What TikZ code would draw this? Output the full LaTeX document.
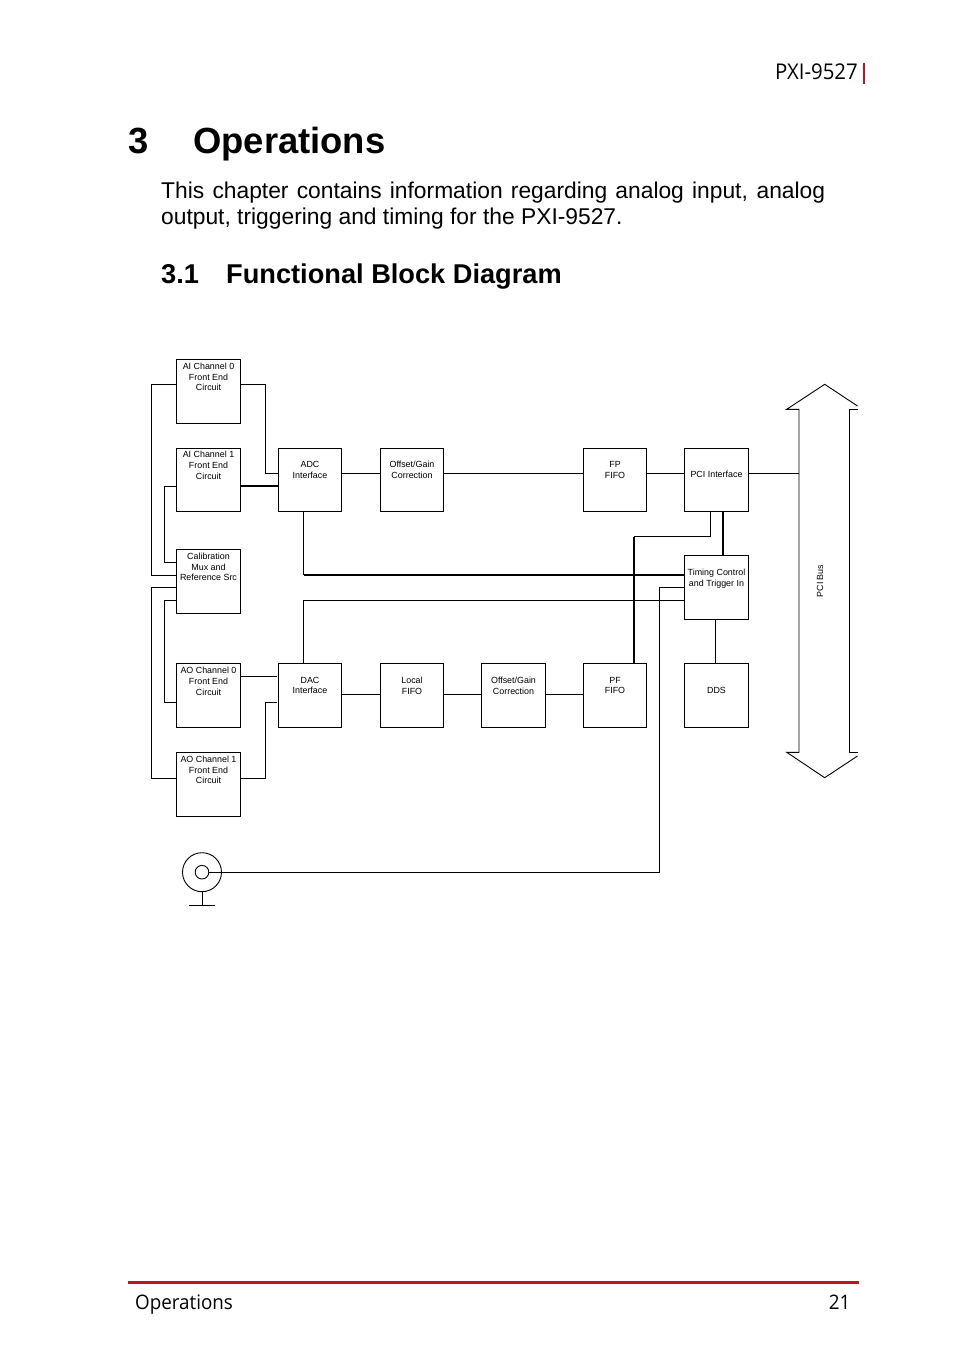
\documentclass[tikz,border=0pt]{standalone}
\usepackage{fontspec}
\setmainfont{Liberation Sans}
\newfontfamily\headfont[FakeStretch=0.94]{Open Sans}
\definecolor{pagered}{RGB}{190,22,32}
\tikzset{
    blockbox/.style={draw, rectangle, minimum width=63.5pt, minimum height=63.5pt, inner sep=0pt, outer sep=0pt, line width=0.9pt},
    blocktext/.style={align=center, inner sep=0pt, font=\fontsize{8.9pt}{10.7pt}\selectfont},
    wire/.style={line width=0.9pt},
    thickwire/.style={line width=1.9pt},
    pagetext/.style={inner sep=0pt, anchor=base west}
}
\begin{document}
\begin{tikzpicture}[x=1pt,y=-1pt]
    \useasboundingbox (0,0) rectangle (954,1354);
    % page furniture
    \node[pagetext, font=\headfont\fontsize{21.7pt}{24pt}\selectfont] (header) at (775,79) {PXI-9527};
    \coordinate (headbar) at (863.8,63);
    \draw[pagered, line width=2pt] (headbar) -- (863.8,84);
    \node[pagetext, font=\bfseries\fontsize{36.4pt}{40pt}\selectfont] (chapnum) at (128,153) {3};
    \node[pagetext, font=\bfseries\fontsize{36.4pt}{40pt}\selectfont] (chaptitle) at (193,153) {Operations};
    \node[inner sep=0pt, anchor=north west, text width=664pt, align=justify, font=\fontsize{22.8pt}{26.3pt}\selectfont] (intro) at (161,181.7) {\hyphenpenalty=10000 This chapter contains information regarding analog input, analog output, triggering and timing for the PXI-9527.};
    \node[pagetext, font=\bfseries\fontsize{27.2pt}{30pt}\selectfont] (secnum) at (161,283.5) {3.1};
    \node[pagetext, font=\bfseries\fontsize{27.2pt}{30pt}\selectfont] (sectitle) at (226,283.5) {Functional Block Diagram};
    \node[pagetext, font=\headfont\fontsize{20pt}{24pt}\selectfont] (footer) at (135,1309) {Operations};
    \node[pagetext, anchor=base east, font=\headfont\fontsize{20pt}{24pt}\selectfont] (pageno) at (850.5,1309) {21};
    \coordinate (footrule) at (128,1282);
    \draw[pagered, line width=3pt] (footrule) -- (858.5,1282);

    % blocks
    \node[blockbox] (ai0) at (208.5,391.5) {};
    \node[blockbox] (ai1) at (208.5,480) {};
    \node[blockbox] (cal) at (208.5,581.5) {};
    \node[blockbox] (ao0) at (208.5,695.5) {};
    \node[blockbox] (ao1) at (208.5,784.3) {};
    \node[blockbox] (adc) at (310,480) {};
    \node[blockbox] (gain0) at (412,480) {};
    \node[blockbox] (fpfifo) at (615,480) {};
    \node[blockbox] (pci) at (716.5,480) {};
    \node[blockbox] (timing) at (716.5,587.5) {};
    \node[blockbox] (dac) at (310,695.5) {};
    \node[blockbox] (local) at (412,695.5) {};
    \node[blockbox] (gain1) at (513.5,695.5) {};
    \node[blockbox] (pffifo) at (615,695.5) {};
    \node[blockbox] (dds) at (716.5,695.5) {};

    \node[blocktext] (ai0txt) at (208.5,377) {AI Channel 0\\Front End\\Circuit};
    \node[blocktext] (ai1txt) at (208.5,465.5) {AI Channel 1\\Front End\\Circuit};
    \node[blocktext] (caltxt) at (208.5,567) {Calibration\\Mux and\\Reference Src};
    \node[blocktext] (ao0txt) at (208.5,681.5) {AO Channel 0\\Front End\\Circuit};
    \node[blocktext] (ao1txt) at (208.5,770) {AO Channel 1\\Front End\\Circuit};
    \node[blocktext] (adctxt) at (310,470) {ADC\\Interface};
    \node[blocktext] (gain0txt) at (412,470) {Offset/Gain\\Correction};
    \node[blocktext] (fptxt) at (615,470) {FP\\FIFO};
    \node[blocktext] (pcitxt) at (716.5,474) {PCI Interface};
    \node[blocktext] (timingtxt) at (716.5,579) {Timing Control\\and Trigger In};
    \node[blocktext] (dactxt) at (310,685.5) {DAC\\Interface};
    \node[blocktext] (localtxt) at (412,685.5) {Local\\FIFO};
    \node[blocktext] (gain1txt) at (513.5,685.5) {Offset/Gain\\Correction};
    \node[blocktext] (pftxt) at (615,685.5) {PF\\FIFO};
    \node[blocktext] (ddstxt) at (716.5,690) {DDS};
    \node[blocktext, rotate=90] (bustxt) at (820,581) {PCI Bus};

    % rails and rows
    \coordinate (outerrail) at (151.7,0);
    \coordinate (innerrail) at (164.7,0);
    \coordinate (linkrail) at (265.7,0);
    \coordinate (dacgap) at (277,0);
    \coordinate (tap) at (303.5,0);
    \coordinate (pfrail) at (633.7,0);
    \coordinate (bncrail) at (659.3,0);
    \coordinate (pcitap0) at (710.3,0);
    \coordinate (ddstap) at (715,0);
    \coordinate (pcitap1) at (723,0);
    \coordinate (busl) at (799,0);
    \coordinate (rowai0) at (0,384.3);
    \coordinate (rowmain) at (0,473.3);
    \coordinate (rowai1) at (0,486);
    \coordinate (rowpf) at (0,536.5);
    \coordinate (rowcal0) at (0,562);
    \coordinate (rowcal1) at (0,575);
    \coordinate (rowcal2) at (0,587.8);
    \coordinate (rowcal3) at (0,600.3);
    \coordinate (rowao0) at (0,676.3);
    \coordinate (rowlocal) at (0,694.3);
    \coordinate (rowback) at (0,702.3);
    \coordinate (rowao1) at (0,778.3);

    % analog input side
    \draw[wire] (ai0.west |- rowai0) -- (outerrail |- rowai0) -- (outerrail |- rowcal1) -- (cal.west |- rowcal1);
    \draw[wire] (ai0.east |- rowai0) -- (linkrail |- rowai0) -- (linkrail |- rowmain) -- (adc.west |- rowmain);
    \draw[thickwire] (ai1.east |- rowai1) -- (adc.west |- rowai1);
    \draw[wire] (ai1.west |- rowai1) -- (innerrail |- rowai1) -- (innerrail |- rowcal0) -- (cal.west |- rowcal0);
    \draw[wire] (adc.east |- rowmain) -- (gain0.west |- rowmain);
    \draw[wire] (gain0.east |- rowmain) -- (fpfifo.west |- rowmain);
    \draw[wire] (fpfifo.east |- rowmain) -- (pci.west |- rowmain);
    \draw[wire] (pci.east |- rowmain) -- (busl |- rowmain);

    % analog output side
    \draw[wire] (cal.west |- rowcal2) -- (outerrail |- rowcal2) -- (outerrail |- rowao1) -- (ao1.west |- rowao1);
    \draw[wire] (cal.west |- rowcal3) -- (innerrail |- rowcal3) -- (innerrail |- rowback) -- (ao0.west |- rowback);
    \draw[wire] (ao0.east |- rowao0) -- (dacgap |- rowao0);
    \draw[wire] (ao1.east |- rowao1) -- (linkrail |- rowao1) -- (linkrail |- rowback) -- (dacgap |- rowback);
    \draw[wire] (dac.east |- rowlocal) -- (local.west |- rowlocal);
    \draw[wire] (local.east |- rowlocal) -- (gain1.west |- rowlocal);
    \draw[wire] (gain1.east |- rowlocal) -- (pffifo.west |- rowlocal);

    % control lines
    \draw[wire] (adc.south -| tap) -- (tap |- rowcal1);
    \draw[thickwire] (tap |- rowcal1) -- (timing.west |- rowcal1);
    \draw[wire] (dac.north -| tap) -- (tap |- rowcal3) -- (timing.west |- rowcal3);
    \draw[wire] (pci.south -| pcitap0) -- (pcitap0 |- rowpf) -- (pfrail |- rowpf);
    \draw[thickwire] (pfrail |- rowpf) -- (pffifo.north -| pfrail);
    \draw[line width=1.4pt] (pci.south -| pcitap1) -- (timing.north -| pcitap1);
    \draw[wire] (timing.south -| ddstap) -- (dds.north -| ddstap);

    % connector
    \node[draw, circle, wire, minimum size=39pt, inner sep=0pt] (bnc) at (202,872.2) {};
    \node[draw, circle, wire, minimum size=13.6pt, inner sep=0pt] (bncpin) at (202,872.2) {};
    \coordinate (bncfoot) at (202,905.5);
    \draw[wire] (bnc.south) -- (bncfoot);
    \draw[wire] (189,905.5) -- (215,905.5);
    \draw[line width=1.2pt] (bncpin.east) -- (bncrail |- bncpin.east) -- (bncrail |- rowcal2) -- (timing.west |- rowcal2);

    % bus arrow
    \draw[wire] (799,752.3) -- (799,409.3) -- (786.7,409.3) -- (824.7,384.3) -- (857.5,406);
    \draw[wire] (857.5,409.3) -- (849.7,409.3) -- (849.7,752.3) -- (857.5,752.3);
    \draw[wire] (857.5,756) -- (824.7,777.7) -- (786.7,752.3) -- (799,752.3);
\end{tikzpicture}
\end{document}
